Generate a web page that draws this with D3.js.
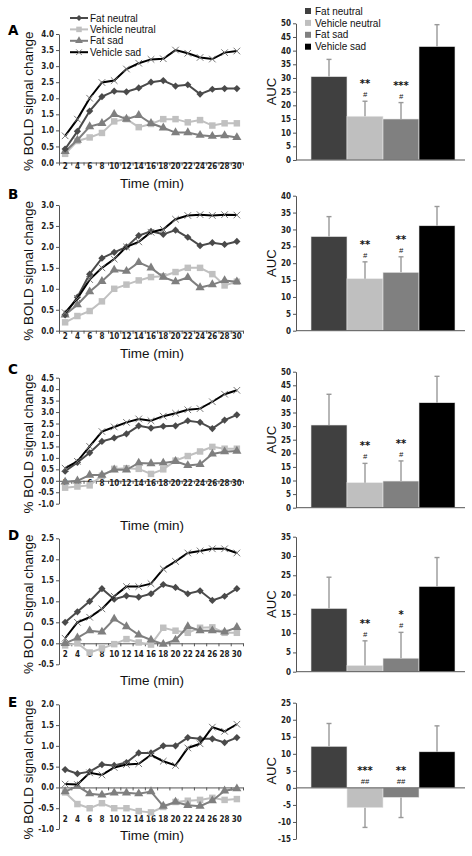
<!DOCTYPE html>
<html><head><meta charset="utf-8">
<script src="https://cdn.jsdelivr.net/npm/d3@7"></script>
<style>body{margin:0;background:#fff} svg{display:block}</style>
</head><body>
<svg id="c" width="472" height="856"></svg>
<script>
// ---------- DATA ----------
const times = [2,4,6,8,10,12,14,16,18,20,22,24,26,28,30];
const seriesNames = ["Fat neutral","Vehicle neutral","Fat sad","Vehicle sad"];
const panelLetters = ["A","B","C","D","E"];

// Panel A: % BOLD signal change
const A_fatNeutral     = [0.42,0.97,1.60,2.05,2.22,2.20,2.32,2.50,2.55,2.38,2.42,2.13,2.28,2.30,2.30];
const A_vehicleNeutral = [0.27,0.67,0.78,0.92,1.28,1.35,1.10,1.20,1.35,1.35,1.25,1.32,1.15,1.22,1.22];
const A_fatSad         = [0.35,0.70,1.12,1.22,1.50,1.35,1.47,1.22,1.08,0.93,0.93,0.85,0.82,0.84,0.78];
const A_vehicleSad     = [0.83,1.35,2.00,2.49,2.55,2.91,3.09,3.21,3.23,3.50,3.40,3.27,3.22,3.42,3.47];
// Panel B
const B_fatNeutral     = [0.38,0.80,1.35,1.73,1.87,2.00,2.27,2.37,2.30,2.40,2.23,2.03,2.10,2.06,2.13];
const B_vehicleNeutral = [0.20,0.35,0.47,0.70,1.00,1.10,1.20,1.28,1.30,1.40,1.50,1.50,1.35,1.08,1.17];
const B_fatSad         = [0.38,0.62,0.93,1.18,1.45,1.42,1.63,1.50,1.28,1.17,1.27,1.03,1.10,1.20,1.17];
const B_vehicleSad     = [0.43,0.77,1.22,1.50,1.71,2.00,2.12,2.35,2.42,2.66,2.75,2.77,2.75,2.77,2.76];
// Panel C
const C_fatNeutral     = [0.42,0.80,1.22,1.72,1.87,2.05,2.40,2.30,2.38,2.40,2.62,2.55,2.28,2.65,2.88];
const C_vehicleNeutral = [-0.30,-0.25,-0.20,0.22,0.52,0.55,0.52,0.30,0.50,0.88,1.08,1.28,1.48,1.40,1.40];
const C_fatSad         = [-0.05,0.00,0.25,0.25,0.48,0.48,0.78,0.75,0.78,0.85,0.67,0.72,1.17,1.27,1.30];
const C_vehicleSad     = [0.55,0.85,1.50,2.15,2.35,2.55,2.70,2.62,2.82,2.95,3.10,3.15,3.45,3.78,3.95];
// Panel D
const D_fatNeutral     = [0.50,0.75,1.00,1.30,1.05,1.13,1.10,1.18,1.40,1.33,1.18,1.25,1.02,1.12,1.30];
const D_vehicleNeutral = [-0.05,0.00,-0.22,-0.12,-0.02,0.10,0.02,-0.03,0.37,0.30,0.25,0.37,0.38,0.25,0.25];
const D_fatSad         = [0.00,0.13,0.30,0.27,0.58,0.40,0.20,0.08,-0.02,0.08,0.40,0.30,0.30,0.27,0.38];
const D_vehicleSad     = [0.12,0.50,0.62,0.82,1.12,1.35,1.35,1.42,1.77,1.95,2.15,2.20,2.25,2.25,2.15];
// Panel E
const E_fatNeutral     = [0.43,0.33,0.38,0.55,0.53,0.60,0.83,0.83,1.00,1.00,1.20,1.17,1.17,1.08,1.20];
const E_vehicleNeutral = [-0.12,-0.40,-0.50,-0.38,-0.50,-0.50,-0.57,-0.60,-0.47,-0.35,-0.32,-0.30,-0.25,-0.30,-0.28];
const E_fatSad         = [-0.10,0.03,-0.15,-0.18,-0.13,-0.13,-0.15,-0.10,-0.45,-0.35,-0.43,-0.45,-0.32,-0.08,-0.03];
const E_vehicleSad     = [0.08,0.07,0.35,0.30,0.48,0.55,0.57,0.78,0.63,0.53,0.95,1.05,1.45,1.35,1.52];

// AUC bars (order: Fat neutral, Vehicle neutral, Fat sad, Vehicle sad)
const A_auc = [30.5,16.0,15.0,41.5];  const A_err = [6.3,5.5,6.0,8.0];
const B_auc = [27.9,15.4,17.3,31.1];  const B_err = [5.9,5.0,4.6,5.7];
const C_auc = [30.4,9.2,9.8,38.6];    const C_err = [11.3,7.1,7.4,9.7];
const D_auc = [16.4,1.6,3.5,22.1];    const D_err = [8.1,6.4,6.7,7.5];
const E_auc = [12.2,-5.8,-2.8,10.6];  const E_err = [6.7,5.8,5.9,7.6];
const A_stars = ["","**","***",""];   const A_hash = ["","#","#",""];
const B_stars = ["","**","**",""];    const B_hash = ["","#","#",""];
const C_stars = ["","**","**",""];    const C_hash = ["","#","#",""];
const D_stars = ["","**","*",""];     const D_hash = ["","#","#",""];
const E_stars = ["","***","**",""];   const E_hash = ["","##","##",""];

// Tick values
const A_lineTicks = [0,0.5,1,1.5,2,2.5,3,3.5,4];
const B_lineTicks = [0,0.5,1,1.5,2,2.5,3];
const C_lineTicks = [-1,-0.5,0,0.5,1,1.5,2,2.5,3,3.5,4,4.5];
const D_lineTicks = [-0.5,0,0.5,1,1.5,2,2.5];
const E_lineTicks = [-1,-0.5,0,0.5,1,1.5,2];
const A_barTicks = [0,5,10,15,20,25,30,35,40,45,50];
const B_barTicks = [0,5,10,15,20,25,30,35,40];
const C_barTicks = [0,5,10,15,20,25,30,35,40,45,50];
const D_barTicks = [0,5,10,15,20,25,30,35];
const E_barTicks = [-15,-10,-5,0,5,10,15,20,25];

// ---------- ASSEMBLY ----------
const panels = [
  {lines:[A_fatNeutral,A_vehicleNeutral,A_fatSad,A_vehicleSad], lt:A_lineTicks, auc:A_auc, err:A_err, stars:A_stars, hash:A_hash, bt:A_barTicks},
  {lines:[B_fatNeutral,B_vehicleNeutral,B_fatSad,B_vehicleSad], lt:B_lineTicks, auc:B_auc, err:B_err, stars:B_stars, hash:B_hash, bt:B_barTicks},
  {lines:[C_fatNeutral,C_vehicleNeutral,C_fatSad,C_vehicleSad], lt:C_lineTicks, auc:C_auc, err:C_err, stars:C_stars, hash:C_hash, bt:C_barTicks},
  {lines:[D_fatNeutral,D_vehicleNeutral,D_fatSad,D_vehicleSad], lt:D_lineTicks, auc:D_auc, err:D_err, stars:D_stars, hash:D_hash, bt:D_barTicks},
  {lines:[E_fatNeutral,E_vehicleNeutral,E_fatSad,E_vehicleSad], lt:E_lineTicks, auc:E_auc, err:E_err, stars:E_stars, hash:E_hash, bt:E_barTicks}
];

// ---------- LAYOUT / STYLE ----------
const layout = [
  {lTop:34,    lBot:162.5, xLab:172,   timeY:188, letY:35,    bTop:23.3,  bBot:160},
  {lTop:205,   lBot:330.7, xLab:342,   timeY:358, letY:198.5, bTop:195.7, bBot:330.7},
  {lTop:377.7, lBot:503.7, xLab:488.5, timeY:530, letY:373.5, bTop:371.7, bBot:507.7},
  {lTop:538.3, lBot:664.3, xLab:660,   timeY:685, letY:540,   bTop:536.7, bBot:671.7},
  {lTop:704.3, lBot:829,   xLab:825,   timeY:840, letY:707,   bTop:702.7, bBot:839}
];
const lineColors = ["#4a4a4a","#c0c0c0","#7f7f7f","#000000"];
const markerColors = ["#4a4a4a","#c0c0c0","#7f7f7f","#777777"];
const barColors = ["#404040","#bfbfbf","#808080","#000000"];
const tickFont = "'DejaVu Sans Condensed', 'DejaVu Sans', sans-serif";
const txtFont = "Arial, 'Liberation Sans', sans-serif";
const drawOrder = [1,2,0,3];

const svg = d3.select("#c");
const X0 = 59, X1 = 243, BX0 = 296, BX1 = 465;

function marker(sel, k, s) {
  if (k === 0) {
    sel.append("path").attr("d", d3.symbol(d3.symbolSquare, 26*s*s)()).attr("transform", "rotate(45)").attr("fill", markerColors[0]);
  } else if (k === 1) {
    sel.append("path").attr("d", d3.symbol(d3.symbolSquare, 42*s*s)()).attr("fill", markerColors[1]);
  } else if (k === 2) {
    sel.append("path").attr("d", d3.symbol(d3.symbolTriangle, 36*s*s)()).attr("fill", markerColors[2]);
  } else {
    const r = 3.3*s;
    sel.append("path").attr("d", `M${-r},${-r}L${r},${r}M${-r},${r}L${r},${-r}`).attr("stroke", markerColors[3]).attr("stroke-width", 1).attr("fill","none");
  }
}

panels.forEach((p, i) => {
  const L = layout[i];
  const g = svg.append("g");
  // ----- line chart -----
  const x = d3.scaleBand().domain(times).range([X0, X1]);
  const y = d3.scaleLinear().domain([p.lt[0], p.lt[p.lt.length-1]]).range([L.lBot, L.lTop]);
  const y0 = y(0);

  const ya = g.append("g").attr("transform", `translate(${X0},0)`)
    .call(d3.axisLeft(y).tickValues(p.lt).tickFormat(d => d.toFixed(1)).tickSize(3).tickSizeOuter(0).tickPadding(2));
  ya.selectAll("text").attr("font-family", tickFont).attr("font-weight", "bold").attr("font-size", 8).attr("fill", "#222");
  ya.selectAll("line,path").attr("stroke", "#555");

  const xb = d3.scaleLinear().domain([0, times.length]).range([X0, X1]);
  const xa = g.append("g").attr("transform", `translate(0,${y0})`)
    .call(d3.axisBottom(xb).tickValues(d3.range(0, times.length + 1)).tickFormat("").tickSize(3).tickSizeOuter(0));
  xa.selectAll("line,path").attr("stroke", "#555");
  const xl = g.append("g").attr("transform", `translate(0,${L.xLab - 8.5})`)
    .call(d3.axisBottom(x).tickSize(0).tickPadding(0));
  xl.select(".domain").remove();
  xl.selectAll("text").attr("font-family", tickFont).attr("font-weight", "bold").attr("font-size", 8).attr("fill", "#222").attr("dy", "0.71em");

  drawOrder.forEach(k => {
    const vals = p.lines[k];
    const line = d3.line().x((d, j) => x(times[j]) + x.bandwidth()/2).y(d => y(d));
    g.append("path").datum(vals).attr("d", line).attr("fill", "none")
      .attr("stroke", lineColors[k]).attr("stroke-width", 2);
    vals.forEach((v, j) => {
      const m = g.append("g").attr("transform", `translate(${x(times[j]) + x.bandwidth()/2},${y(v)})`);
      marker(m, k, 1);
    });
  });

  const midL = (L.lTop + L.lBot)/2 + 3;
  g.append("text").attr("transform", `translate(33,${midL}) rotate(-90)`).attr("text-anchor", "middle")
    .attr("font-family", txtFont).attr("font-size", 13.5).attr("fill", "#111").text("% BOLD signal change");
  g.append("text").attr("x", 152).attr("y", L.timeY).attr("text-anchor", "middle")
    .attr("font-family", txtFont).attr("font-size", 13.5).attr("fill", "#111").text("Time (min)");
  g.append("text").attr("x", 8).attr("y", L.letY).attr("font-family", "'DejaVu Sans', Arial, sans-serif")
    .attr("font-weight", "900").attr("font-size", 13.5).attr("fill", "#000").text(panelLetters[i]);

  // ----- bar chart -----
  const bx = d3.scaleBand().domain(seriesNames).range([311, 455]).padding(0);
  const by = d3.scaleLinear().domain([p.bt[0], p.bt[p.bt.length-1]]).range([L.bBot, L.bTop]);
  const b0 = by(0);
  const bya = g.append("g").attr("transform", `translate(${BX0},0)`)
    .call(d3.axisLeft(by).tickValues(p.bt).tickFormat(d => String(d)).tickSize(3).tickSizeOuter(0).tickPadding(2));
  bya.selectAll("text").attr("font-family", tickFont).attr("font-weight", "bold").attr("font-size", 8).attr("fill", "#222");
  bya.selectAll("line,path").attr("stroke", "#555");

  seriesNames.forEach((s, k) => {
    const v = p.auc[k];
    const top = Math.min(by(v), b0), h = Math.abs(by(v) - b0);
    g.append("rect").attr("x", bx(s)).attr("y", top).attr("width", bx.bandwidth()).attr("height", h)
      .attr("fill", barColors[k]).attr("stroke", "#e8e8e8").attr("stroke-width", 0.6);
    const cx = bx(s) + bx.bandwidth()/2;
    const endV = v >= 0 ? v + p.err[k] : v - p.err[k];
    g.append("line").attr("x1", cx).attr("x2", cx).attr("y1", by(v)).attr("y2", by(endV)).attr("stroke", "#999").attr("stroke-width", 1.4);
    g.append("line").attr("x1", cx - 2.5).attr("x2", cx + 2.5).attr("y1", by(endV)).attr("y2", by(endV)).attr("stroke", "#999").attr("stroke-width", 1.4);
    if (p.stars[k]) {
      const base = v >= 0 ? by(v + p.err[k]) : b0;
      g.append("text").attr("x", cx).attr("y", base - 4).attr("text-anchor", "middle")
        .attr("font-family", txtFont).attr("font-size", 7.5).attr("font-style", "italic").attr("fill", "#111").text(p.hash[k]);
      g.append("text").attr("x", cx).attr("y", base - 14).attr("text-anchor", "middle")
        .attr("font-family", "'DejaVu Sans', sans-serif").attr("font-weight", "bold").attr("font-size", 10).attr("fill", "#111")
        .text(p.stars[k]);
    }
  });
  g.append("line").attr("x1", BX0).attr("x2", BX1).attr("y1", b0).attr("y2", b0).attr("stroke", "#555");
  g.append("text").attr("transform", `translate(276,${(L.bTop + L.bBot)/2}) rotate(-90)`).attr("text-anchor", "middle")
    .attr("font-family", txtFont).attr("font-size", 13).attr("fill", "#111").text("AUC");
});

// ---------- LEGENDS ----------
const lleg = svg.append("g");
seriesNames.forEach((s, k) => {
  const yy = 18 + k * 11.4;
  lleg.append("line").attr("x1", 70).attr("x2", 88).attr("y1", yy).attr("y2", yy).attr("stroke", lineColors[k]).attr("stroke-width", 2);
  const m = lleg.append("g").attr("transform", `translate(79,${yy})`);
  marker(m, k, 0.85);
  lleg.append("text").attr("x", 90).attr("y", yy + 3.6).attr("font-family", txtFont).attr("font-size", 10).attr("fill", "#111").text(s);
});
const bleg = svg.append("g");
seriesNames.forEach((s, k) => {
  const yy = 11 + k * 11.9;
  bleg.append("rect").attr("x", 305).attr("y", yy - 3).attr("width", 6).attr("height", 6).attr("fill", barColors[k]);
  bleg.append("text").attr("x", 315).attr("y", yy + 3.6).attr("font-family", txtFont).attr("font-size", 10).attr("fill", "#111").text(s);
});
</script>
</body></html>
